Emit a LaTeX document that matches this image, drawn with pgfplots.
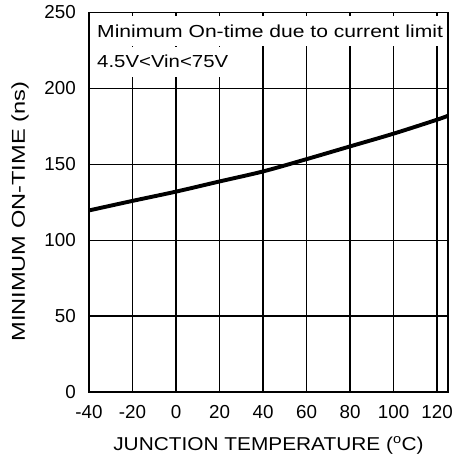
\documentclass[border=0pt]{standalone}
\usepackage{pgfplots}
\pgfplotsset{compat=1.18}
\usepackage{fontspec}
\setmainfont{Liberation Sans}
\usepackage{graphicx}
\begin{document}
\fontsize{18.6bp}{22bp}\selectfont
\begin{tikzpicture}
\begin{axis}[
  scale only axis, width=359bp, height=379.5bp,
  xmin=-40, xmax=125, ymin=0, ymax=250,
  xtick={-40,-20,0,20,40,60,80,100,120},
  ytick={0,50,100,150,200,250},
  grid=major,
  major grid style={black, line width=1.25bp},
  axis line style={black, line width=1.7bp},
  tick style={draw=none},
  /pgf/number format/assume math mode=true,
  ticklabel style={font=\fontsize{18.8bp}{20bp}\selectfont},
  xticklabel style={anchor=base, yshift=-26bp},
  yticklabel style={anchor=east, inner sep=0pt, xshift=-13bp},
  xlabel={\scalebox{1.12}[1]{JUNCTION TEMPERATURE (\textsuperscript{o}C)}},
  xlabel style={at={(axis description cs:0.5,0)}, anchor=base, yshift=-58bp, font=\fontsize{18.6bp}{20bp}\selectfont},
  ylabel={\scalebox{1.27}[1]{MINIMUM ON-TIME (ns)}},
  ylabel style={at={(axis description cs:-0.192,0.475)}, anchor=center, font=\fontsize{18.6bp}{20bp}\selectfont},
  clip=false,
]
\addplot[black, line width=3.9bp, smooth] coordinates {
  (-40,119.6) (-20,125.9) (0,132.0) (20,138.7) (40,145.3) (60,153.4)
  (80,161.8) (100,170.2) (120,179.4) (125,182.0)
};
\node[anchor=west, fill=white, inner xsep=0pt, inner ysep=0pt, minimum height=30bp, text height=12.3bp, text depth=0pt,
  font=\fontsize{17.4bp}{20bp}\selectfont] at (axis cs:-36.3,237.5)
  {\scalebox{1.212}[1]{Minimum On-time due to current limit}};
\node[anchor=west, fill=white, inner xsep=0pt, inner ysep=0pt, minimum height=30bp, text height=12.3bp, text depth=0pt,
  font=\fontsize{17.4bp}{20bp}\selectfont] at (axis cs:-36.3,217.7)
  {\scalebox{1.17}[1]{4.5V<Vin<75V}};
\coordinate (SW) at (rel axis cs:0,0);
\coordinate (NE) at (rel axis cs:1,1);
\end{axis}
\pgfresetboundingbox
\path ([shift={(-89bp,-69bp)}]SW) rectangle ([shift={(15bp,12.5bp)}]NE);
\end{tikzpicture}
\end{document}
